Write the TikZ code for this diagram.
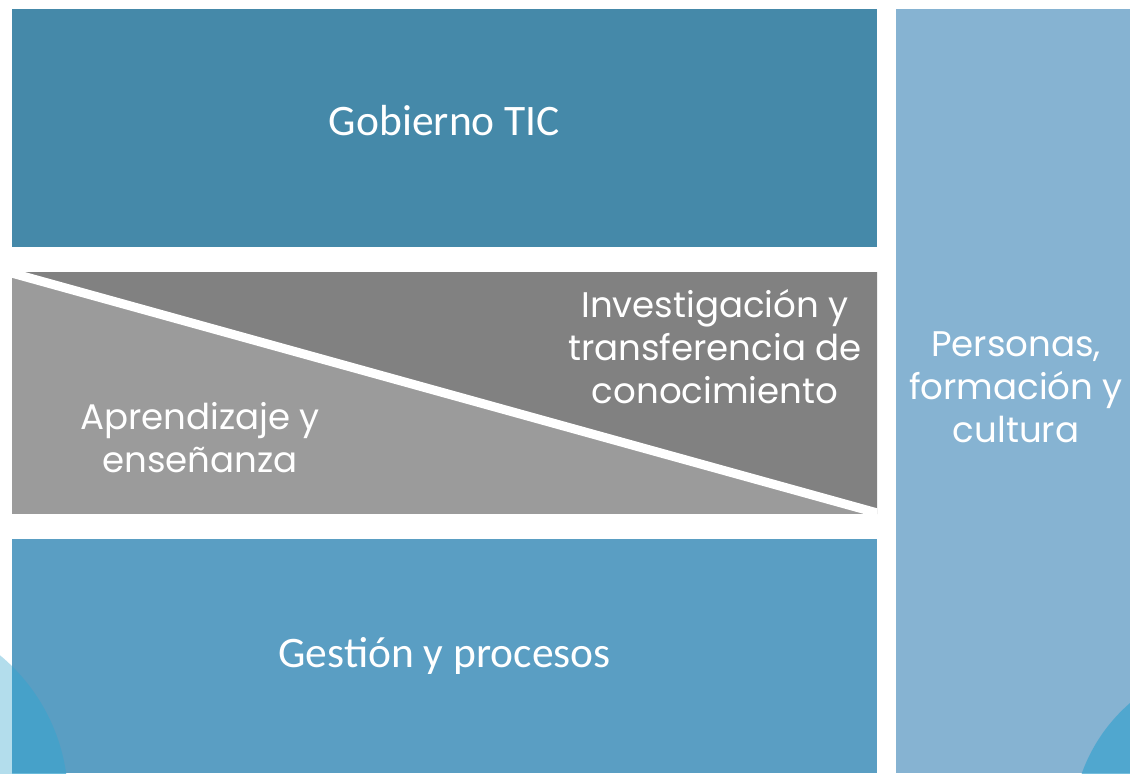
\documentclass[tikz,border=0pt]{standalone}
\usepackage{fontspec}
\setmainfont{Carlito}
\newfontfamily\roundfont{Poppins}
\definecolor{govblue}{HTML}{4589A9}
\definecolor{mgmtblue}{HTML}{5A9EC3}
\definecolor{peopleblue}{HTML}{86B3D2}
\definecolor{darkgrey}{HTML}{818181}
\definecolor{lightgrey}{HTML}{9B9B9B}
\definecolor{arccyan}{HTML}{3AA3CE}
\definecolor{palecyan}{HTML}{B3DDEC}
\tikzset{
  bigtext/.style={text=white, font=\fontsize{21.75}{26}\selectfont},
  roundtext/.style={text=white, align=center, font=\roundfont\fontsize{17.8}{21.5}\selectfont}
}
\begin{document}
\begin{tikzpicture}[x=0.5pt,y=-0.5pt]
        \useasboundingbox (0,0) rectangle (1130,773);
        % background arc
        \fill[palecyan] (-120,800) circle (188);
        % blocks
        \fill[govblue] (12,9) rectangle (877,247);
        \fill[mgmtblue] (12,539) rectangle (877,773);
        \fill[peopleblue] (896,9) rectangle (1130,773);
        \begin{scope}
        \clip (12,539) rectangle (877,773);
        \fill[arccyan,opacity=.6] (-120,800) circle (188);
        \end{scope}
        \begin{scope}
        \clip (896,9) rectangle (1130,773);
        \fill[arccyan,opacity=.7] (1240,830) circle (168);
        \end{scope}
        % split band
        \fill[lightgrey] (12,272) rectangle (877,514);
        \fill[darkgrey] (12,272) -- (877,272) -- (877,514) -- cycle;
        \begin{scope}
        \clip (12,272) rectangle (877,514);
        \coordinate (cutA) at (8,272);
        \coordinate (cutB) at (881,514);
        \draw[white, line width=4.5pt] (cutA) -- (cutB);
        \end{scope}
        % labels
        \node[bigtext, anchor=base] (gobierno) at (444.5,135) {Gobierno TIC};
        \node[bigtext, anchor=base] (gestion) at (444.5,667) {Gestión y procesos};
        \node[roundtext, anchor=base] (investigacion) at (715,403) {Investigación y\\transferencia de\\conocimiento};
        \node[roundtext, anchor=base] (aprendizaje) at (200,472) {Aprendizaje y\\enseñanza};
        \node[roundtext, anchor=base] (personas) at (1016,442) {Personas,\\formación y\\cultura};
    \end{tikzpicture}
\end{document}
